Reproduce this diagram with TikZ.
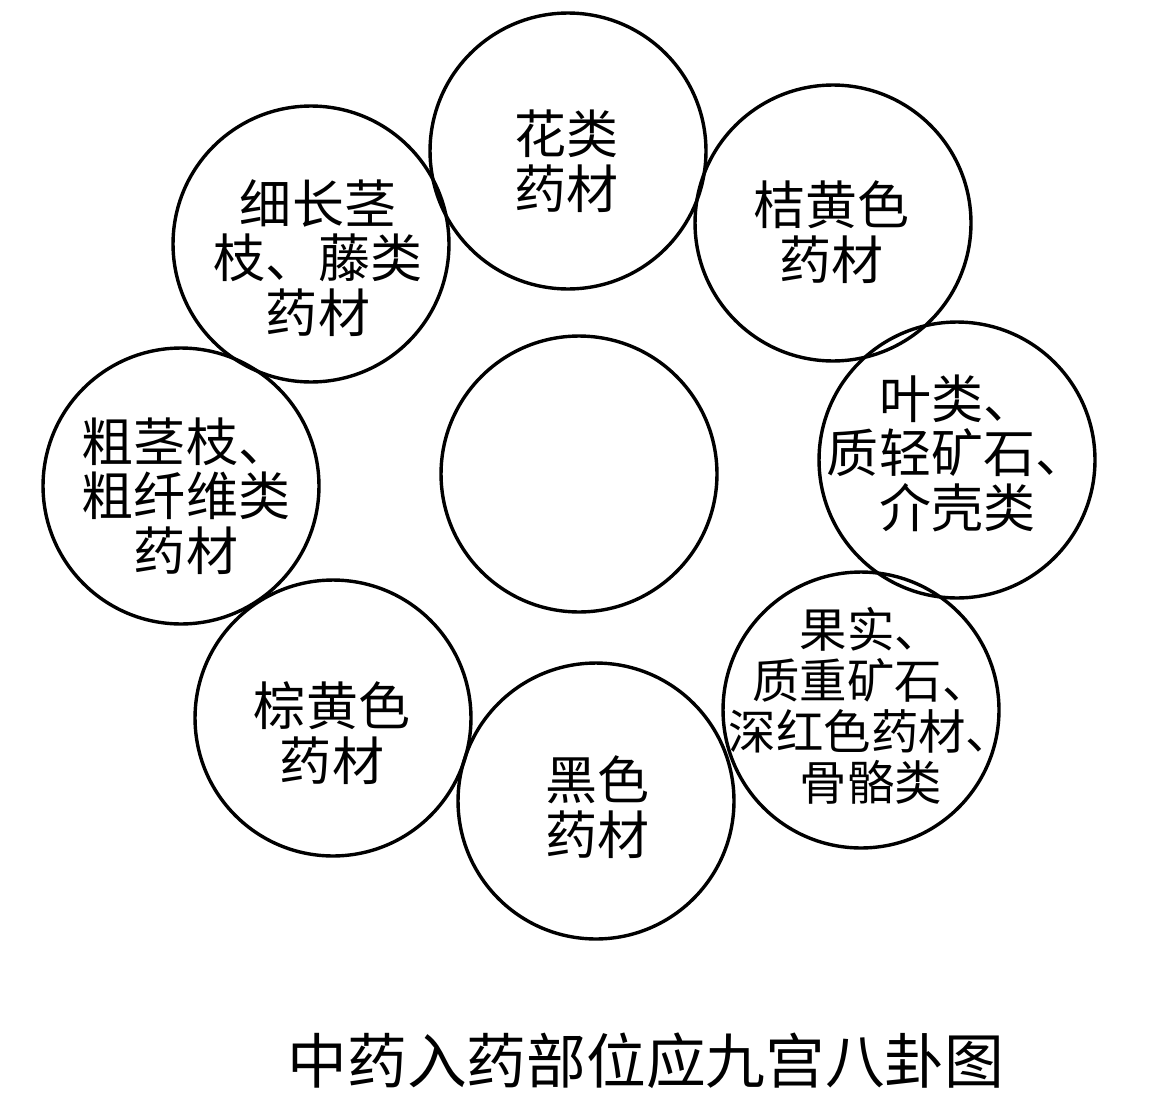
\documentclass[tikz,border=0pt]{standalone}
\usepackage{fontspec}
\newfontfamily\cjk{Noto Sans CJK SC}
\begin{document}
\begin{tikzpicture}[x=0.02cm, y=-0.02cm,
		gua/.style={circle, draw, line width=0.068cm, minimum size=5.52cm, inner sep=0pt},
		guatext/.style={align=center, font=\cjk\fontsize{29.6}{31}\selectfont, inner sep=0pt},
		guasmall/.style={guatext, font=\cjk\fontsize{27}{29}\selectfont}]
		\fill[white] (0,0) rectangle (1169,1105);
		\useasboundingbox (0,0) rectangle (1169,1105);
		
		\node[gua] (zhong) at (579,474) {};
		
		\foreach \n/\cx/\cy/\tx/\ty/\t in {hua/568/151/566/161/{花类\\药材}, ju/833/223/831/232/{桔黄色\\药材}, ye/957/460/957/453/{叶类、\\质轻矿石、\\介壳类}, hei/596/801/597/807/{黑色\\药材}, zong/333/718/332/733/{棕黄色\\药材}, cu/181/486/186/496/{粗茎枝、\\粗纤维类\\药材}, xi/311/244/318/258/{细长茎\\枝、藤类\\药材}}
		{
			\node[gua] (\n) at (\cx,\cy) {};
			\node[guatext] (\n-t) at (\tx,\ty) {\t};
		}
		
		\node[gua] (guo) at (861,710) {};
		\node[guasmall] (guo-t) at (871,706) {果实、\\质重矿石、\\深红色药材、\\骨骼类};
		
		\node[font=\cjk\fontsize{34}{36}\selectfont, inner sep=0pt] (title) at (646,1061) {中药入药部位应九宫八卦图};
	\end{tikzpicture}
\end{document}
